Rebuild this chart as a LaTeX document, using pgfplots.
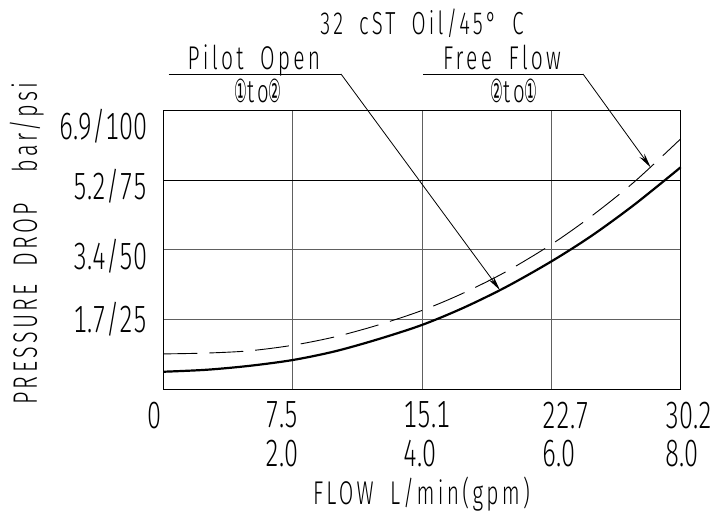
\documentclass[border=0pt]{standalone}
\usepackage{fontspec}
\IfFontExistsTF{Fira Sans Light}{\def\fnt{Fira Sans Light}}{\def\fnt{Liberation Sans}}
\setmainfont{\fnt}[FakeStretch=0.66, Numbers=Monospaced]
\newfontfamily\lab{\fnt}[FakeStretch=0.64, LetterSpace=10, WordSpace=1.8]
\newfontfamily\circfont{DejaVu Sans}[FakeStretch=0.45]
\usepackage{pgfplots}
\pgfplotsset{compat=1.18}
\usetikzlibrary{arrows.meta}

\newcommand{\tl}{\fontsize{38}{38.4}\selectfont}
\newcommand{\cn}[1]{{\fontsize{32}{34}\circfont #1}}

\begin{document}
\begin{tikzpicture}[x=1bp,y=1bp]
\begin{axis}[
  at={(0,0)}, anchor=south west,
  scale only axis, width=517.4bp, height=278.6bp,
  xmin=0, xmax=30.2, ymin=0, ymax=100,
  axis line style={line width=1.2bp},
  xtick={0,7.55,15.1,22.65,30.2}, ytick={25,50,75},
  xticklabels={}, yticklabels={},
  major tick length=0pt,
  grid=major, major grid style={line width=1bp, gray!75!black},
  clip=false,
]
% 75 psi line is drawn darker in the original
\draw[line width=1bp, black] (axis cs:0,75) -- (axis cs:30.2,75);

% free flow (dashed)
\addplot[black, line width=0.9bp, dash pattern=on 34bp off 12bp, smooth] coordinates {
(0,12.7) (2.5,13.0) (5,13.8) (7.55,15.8) (10,18.8) (12.5,23.0) (15.1,28.3)
(17.5,34.5) (20,42.2) (22.65,52.0) (25,62.2) (27.5,74.5) (30.2,89.9)};

% pilot open (solid)
\addplot[black, line width=2.2bp, smooth] coordinates {
(0,6.3) (2.5,7.0) (5,8.4) (7.55,10.5) (10,13.6) (12.5,17.9) (15.1,23.1)
(17.5,29.2) (20,36.7) (22.65,45.9) (25,55.1) (27.5,66.3) (30.2,79.7)};

\coordinate (tipA) at (axis cs:19.65,35.6);
\coordinate (tipB) at (axis cs:28.45,79.6);
\end{axis}

% y tick labels
\node[anchor=base east, inner sep=0pt, font=\tl] at (-15.3,249.3) {6.9/100};
\node[anchor=base east, inner sep=0pt, font=\tl] at (-15.3,189.3) {5.2/75};
\node[anchor=base east, inner sep=0pt, font=\tl] at (-15.3,119.3) {3.4/50};
\node[anchor=base east, inner sep=0pt, font=\tl] at (-15.3,56.3) {1.7/25};

% x tick labels
\node[anchor=north west, inner sep=0pt, align=left, font=\tl] at (-15.8,-12.4) {0};
\node[anchor=north west, inner sep=0pt, align=left, font=\tl] at (101.7,-12.4) {7.5\\2.0};
\node[anchor=north west, inner sep=0pt, align=left, font=\tl] at (239.7,-12.4) {15.1\\4.0};
\node[anchor=north west, inner sep=0pt, align=left, font=\tl] at (378.7,-12.4) {22.7\\6.0};
\node[anchor=north west, inner sep=0pt, align=left, font=\tl] at (501.7,-12.4) {30.2\\8.0};

% axis titles
\node[anchor=base, inner sep=0pt, font=\lab\fontsize{33}{36}\selectfont] at (258.2,-115.7) {FLOW L/min(gpm)};
\node[anchor=base west, inner sep=0pt, rotate=90, font=\lab\fontsize{34}{36}\selectfont] at (-126.3,-15.7) {PRESSURE DROP};
\node[anchor=base east, inner sep=0pt, rotate=90, font=\lab\fontsize{34}{36}\selectfont] at (-126.3,307.3) {bar/psi};

% header
\node[anchor=base, inner sep=0pt, font=\lab\fontsize{32}{34}\selectfont] at (258.7,354.3) {32 cST Oil/45° C};
\node[anchor=base, inner sep=0pt, font=\lab\fontsize{33}{34}\selectfont] at (90.7,319.3) {Pilot Open};
\node[anchor=base, inner sep=0pt, font=\lab\fontsize{32}{34}\selectfont] at (94.7,286.3) {\cn{①}to\cn{②}};
\node[anchor=base, inner sep=0pt, font=\lab\fontsize{33}{34}\selectfont] at (338.7,319.3) {Free Flow};
\node[anchor=base, inner sep=0pt, font=\lab\fontsize{32}{34}\selectfont] at (350.7,286.3) {\cn{②}to\cn{①}};

% leaders
\draw[line width=0.8bp] (5.3,315.3) -- (177.7,315.3);
\draw[line width=0.8bp, -{Stealth[length=15bp,width=6bp]}] (177.7,315.3) -- (tipA);
\draw[line width=0.8bp] (259.7,315.3) -- (419.7,315.3);
\draw[line width=0.8bp, -{Stealth[length=15bp,width=6bp]}] (419.7,315.3) -- (tipB);

\pgfresetboundingbox
\path (-163.3,-123.7) rectangle (561.7,389.3);
\end{tikzpicture}
\end{document}
